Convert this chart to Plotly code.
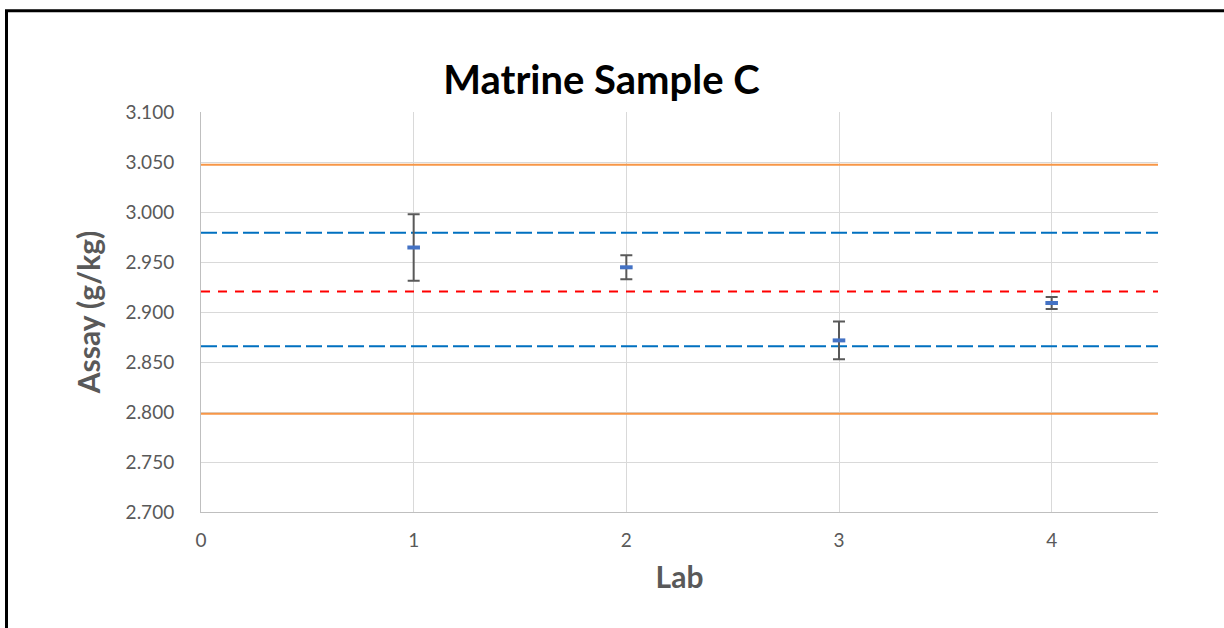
import plotly.graph_objects as go

labs = [1, 2, 3, 4]
assay = [2.9645, 2.9447, 2.8716, 2.9090]
err = [0.0332, 0.0120, 0.0189, 0.0060]

line_x = [0, 4.5]
mean_val = 2.9205
inner_upper = 2.9792
inner_lower = 2.8657
outer_upper = 3.0472
outer_lower = 2.7982

yticks = [2.700, 2.750, 2.800, 2.850, 2.900, 2.950, 3.000, 3.050, 3.100]
xticks = [0, 1, 2, 3, 4]

FONT = "Lato"
GRAY = "#595959"

fig = go.Figure()

def hline(val, color, dash, width=2):
    fig.add_trace(go.Scatter(x=line_x, y=[val, val], mode="lines",
                             line=dict(color=color, width=width, dash=dash),
                             hoverinfo="skip", showlegend=False))

hline(outer_upper, "#F79646", "solid")
hline(outer_lower, "#F79646", "solid")
hline(inner_upper, "#0070C0", "16px,5px")
hline(inner_lower, "#0070C0", "16px,5px")
hline(mean_val, "#FF0000", "9px,8px")

fig.add_trace(go.Scatter(
    x=labs, y=assay, mode="markers",
    marker=dict(symbol="line-ew", size=9, color="#4472C4",
                line=dict(color="#4472C4", width=4)),
    error_y=dict(type="data", array=err, visible=True, color=GRAY,
                 thickness=2, width=6),
    showlegend=False))

fig.update_layout(
    width=1224, height=628,
    margin=dict(l=201, r=66, t=112, b=116),
    paper_bgcolor="white", plot_bgcolor="white",
    title=dict(text="<b>Matrine Sample C</b>", x=601.5 / 1224, xref="container",
               xanchor="center", y=1 - 80 / 628, yanchor="middle",
               font=dict(family=FONT, size=40, color="black")),
    font=dict(family=FONT),
    shapes=[dict(type="rect", xref="paper", yref="paper",
                 x0=(6.5 - 201) / 957, x1=2.0,
                 y0=-1.0, y1=(511.7 - 10.5) / 400,
                 line=dict(color="black", width=3), layer="above")],
)

fig.update_xaxes(
    range=[0, 4.5], tickvals=xticks, ticktext=[str(v) for v in xticks],
    showgrid=True, gridcolor="#D9D9D9", gridwidth=1,
    showline=True, linecolor="#BFBFBF", linewidth=1,
    zeroline=False, ticks="", ticklabelstandoff=11,
    tickfont=dict(family=FONT, size=19, color=GRAY),
    title=dict(text="<b>Lab</b>", font=dict(family=FONT, size=30, color=GRAY),
               standoff=17),
)
fig.update_yaxes(
    range=[2.7, 3.1], tickvals=yticks, ticktext=[f"{v:.3f}" for v in yticks],
    showgrid=True, gridcolor="#D9D9D9", gridwidth=1,
    showline=True, linecolor="#BFBFBF", linewidth=1,
    zeroline=False, ticks="", ticklabelstandoff=22,
    tickfont=dict(family=FONT, size=19, color=GRAY),
    title=dict(text="<b>Assay (g/kg)</b>", font=dict(family=FONT, size=30, color=GRAY),
               standoff=16),
)

fig.write_html("out.html", config={"displayModeBar": False},
               post_script="document.body.style.margin='0';")
